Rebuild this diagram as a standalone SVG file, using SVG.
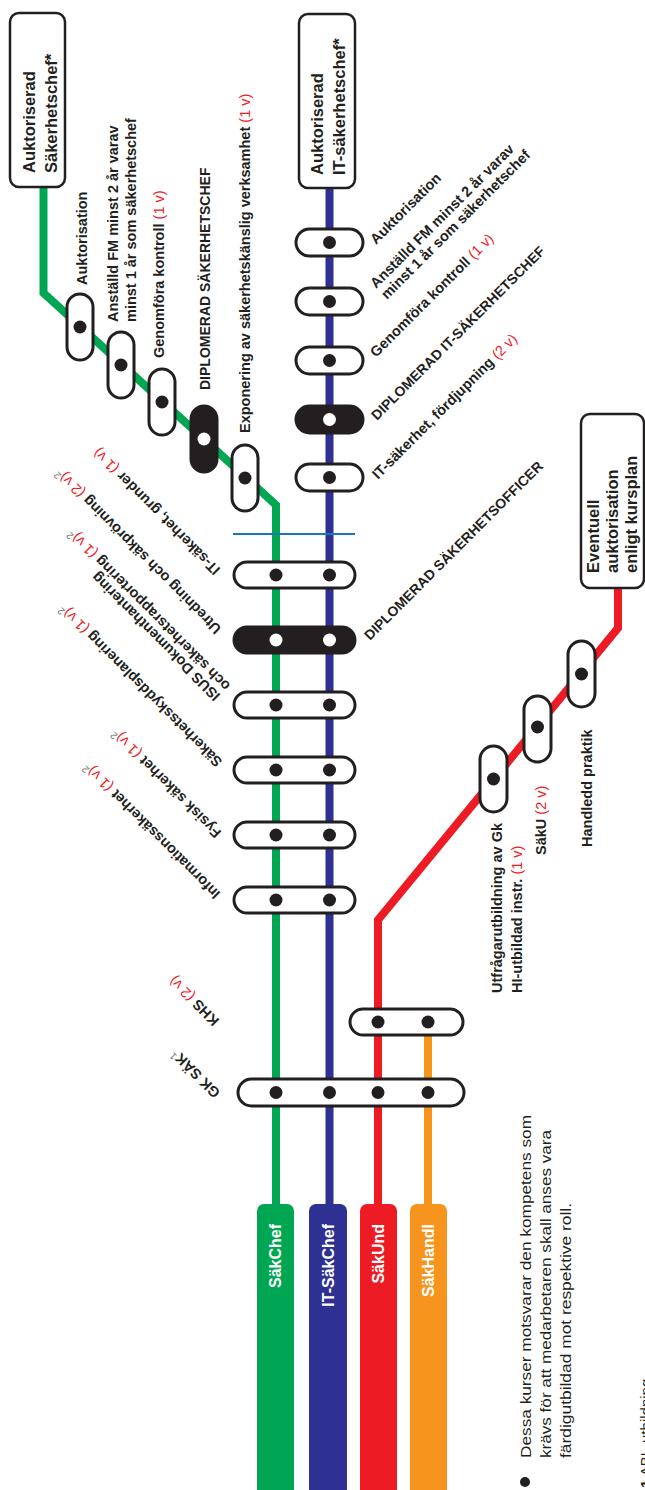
<svg xmlns="http://www.w3.org/2000/svg" width="645" height="1490" viewBox="0 0 645 1490">
<style>
.cap{fill:#fff;stroke:#231f20;stroke-width:3}
.capb{fill:#231f20;stroke:#231f20;stroke-width:3}
.dot{fill:#231f20}
.wdot{fill:#fff}
.lbl{font-family:"Liberation Sans",Arial,sans-serif;font-weight:bold;font-size:14.5px;fill:#231f20}
.dip{font-size:14px}
.r{fill:#ed1c24;font-weight:normal}
.g{fill:#6d6e71;font-weight:normal;font-size:10px}
.box{fill:#fff;stroke:#231f20;stroke-width:2.5}
.boxt{font-family:"Liberation Sans",Arial,sans-serif;font-weight:bold;font-size:16.5px;fill:#231f20}
.bart{font-family:"Liberation Sans",Arial,sans-serif;font-weight:bold;font-size:16px;fill:#fff}
.note{font-family:"Liberation Sans",Arial,sans-serif;font-size:15px;fill:#231f20}
.ln{fill:none;stroke-width:8;stroke-linejoin:miter}
</style>

<g id="connectors">
  <polyline class="ln" stroke="#00a651" points="43.5,187 43.5,293 276,505 276,1210"/>
  <polyline class="ln" stroke="#2e3192" points="329.5,188 329.5,1210"/>
  <polyline class="ln" stroke="#ed1c24" points="618,588 618,628 378,920 378,1210"/>
  <polyline class="ln" stroke="#f7941d" stroke-width="6" points="428,1022 428,1210"/>
  <line x1="233" y1="534" x2="355" y2="534" stroke="#1b75bc" stroke-width="2"/>
</g>

<!-- Terminal boxes -->
<g id="box-sakchef">
  <rect class="box" x="10" y="13" width="55" height="174" rx="9"/>
  <text class="boxt" transform="translate(35,173) rotate(-90)">Auktoriserad</text>
  <text class="boxt" transform="translate(57,173) rotate(-90)">Säkerhetschef*</text>
</g>
<g id="box-itsakchef">
  <rect class="box" x="299" y="14" width="56" height="174" rx="9"/>
  <text class="boxt" transform="translate(323,175) rotate(-90)">Auktoriserad</text>
  <text class="boxt" transform="translate(345,175) rotate(-90)">IT-säkerhetschef*</text>
</g>
<g id="box-eventuell">
  <rect class="box" x="581" y="414" width="63" height="174" rx="9"/>
  <text class="boxt" transform="translate(599,573) rotate(-90)">Eventuell</text>
  <text class="boxt" transform="translate(618,573) rotate(-90)">auktorisation</text>
  <text class="boxt" transform="translate(637,573) rotate(-90)">enligt kursplan</text>
</g>

<!-- Green diagonal stations -->
<g id="g-auktorisation">
  <rect class="cap" x="67" y="294" width="26" height="66" rx="13"/>
  <circle class="dot" cx="80" cy="327" r="6.5"/>
  <text class="lbl" transform="translate(87,285) rotate(-90)">Auktorisation</text>
</g>
<g id="g-anstalld">
  <rect class="cap" x="108" y="332" width="26" height="66" rx="13"/>
  <circle class="dot" cx="121" cy="365" r="6.5"/>
  <text class="lbl" transform="translate(118,322) rotate(-90)">Anställd FM minst 2 år varav</text>
  <text class="lbl" transform="translate(136,322) rotate(-90)">minst 1 år som säkerhetschef</text>
</g>
<g id="g-kontroll">
  <rect class="cap" x="149" y="369" width="26" height="66" rx="13"/>
  <circle class="dot" cx="162" cy="402" r="6.5"/>
  <text class="lbl" transform="translate(164,358) rotate(-90)">Genomföra kontroll <tspan class="r">(1 v)</tspan></text>
</g>
<g id="g-diplomerad">
  <rect class="capb" x="191" y="406" width="26" height="66" rx="13"/>
  <circle class="wdot" cx="204" cy="439" r="6.5"/>
  <text class="lbl dip" transform="translate(210,390) rotate(-90)">DIPLOMERAD SÄKERHETSCHEF</text>
</g>
<g id="g-exponering">
  <rect class="cap" x="232" y="445" width="26" height="66" rx="13"/>
  <circle class="dot" cx="245" cy="478" r="6.5"/>
  <text class="lbl" transform="translate(250,433) rotate(-90)">Exponering av säkerhetskänslig verksamhet  <tspan class="r">(1 v)</tspan></text>
</g>

<!-- Blue stations -->
<g id="b-auktorisation">
  <rect class="cap" x="296" y="229" width="67" height="27" rx="13.5"/>
  <circle class="dot" cx="329.5" cy="242.5" r="6.5"/>
  <text class="lbl" transform="translate(376,245) rotate(-45)">Auktorisation</text>
</g>
<g id="b-anstalld">
  <rect class="cap" x="296" y="288" width="67" height="27" rx="13.5"/>
  <circle class="dot" cx="329.5" cy="301.5" r="6.5"/>
  <text class="lbl" transform="translate(376,289) rotate(-45)">Anställd FM minst 2 år varav</text>
  <text class="lbl" transform="translate(387,300) rotate(-45)">minst 1 år som säkerhetschef</text>
</g>
<g id="b-kontroll">
  <rect class="cap" x="296" y="347" width="67" height="27" rx="13.5"/>
  <circle class="dot" cx="329.5" cy="360.5" r="6.5"/>
  <text class="lbl" transform="translate(376,358) rotate(-45)">Genomföra kontroll <tspan class="r">(1 v)</tspan></text>
</g>
<g id="b-diplomerad">
  <rect class="capb" x="296" y="406" width="67" height="27" rx="13.5"/>
  <circle class="wdot" cx="329.5" cy="419.5" r="6.5"/>
  <text class="lbl dip" transform="translate(377,421) rotate(-45)">DIPLOMERAD IT-SÄKERHETSCHEF</text>
</g>
<g id="b-fordjupning">
  <rect class="cap" x="296" y="464" width="67" height="27" rx="13.5"/>
  <circle class="dot" cx="329.5" cy="477.5" r="6.5"/>
  <text class="lbl" transform="translate(378,480) rotate(-45)">IT-säkerhet, fördjupning <tspan class="r">(2 v)</tspan></text>
</g>

<!-- Shared green/blue stations -->
<g id="s-grunder">
  <rect class="cap" x="234" y="562" width="121" height="26" rx="13"/>
  <circle class="dot" cx="276" cy="575" r="6.5"/>
  <circle class="dot" cx="329.5" cy="575" r="6.5"/>
  <text class="lbl" transform="translate(221,569) rotate(-135)">IT-säkerhet, grunder <tspan class="r">(1 v)</tspan></text>
</g>
<g id="s-utredning">
  <rect class="capb" x="234" y="627" width="121" height="26" rx="13"/>
  <circle class="wdot" cx="276" cy="640" r="6.5"/>
  <circle class="wdot" cx="329.5" cy="640" r="6.5"/>
  <text class="lbl" transform="translate(222,628) rotate(-135)">Utredning och säkprövning <tspan class="r">(2 v)</tspan><tspan class="g" dy="-5">2</tspan></text>
  <text class="lbl dip" transform="translate(370,641) rotate(-45)">DIPLOMERAD SÄKERHETSOFFICER</text>
</g>
<g id="s-isus">
  <rect class="cap" x="234" y="692" width="121" height="26" rx="13"/>
  <circle class="dot" cx="276" cy="705" r="6.5"/>
  <circle class="dot" cx="329.5" cy="705" r="6.5"/>
  <text class="lbl" transform="translate(221,695) rotate(-135)">ISUS Dokumenthantering</text>
  <text class="lbl" transform="translate(231,685) rotate(-135)">och säkerhetsrapportering <tspan class="r">(1 v)</tspan><tspan class="g" dy="-5">2</tspan></text>
</g>
<g id="s-skydd">
  <rect class="cap" x="234" y="757" width="121" height="26" rx="13"/>
  <circle class="dot" cx="276" cy="770" r="6.5"/>
  <circle class="dot" cx="329.5" cy="770" r="6.5"/>
  <text class="lbl" transform="translate(223,761) rotate(-135)">Säkerhetsskyddsplanering <tspan class="r">(1 v)</tspan><tspan class="g" dy="-5">2</tspan></text>
</g>
<g id="s-fysisk">
  <rect class="cap" x="234" y="822" width="121" height="26" rx="13"/>
  <circle class="dot" cx="276" cy="835" r="6.5"/>
  <circle class="dot" cx="329.5" cy="835" r="6.5"/>
  <text class="lbl" transform="translate(222,832) rotate(-135)">Fysisk säkerhet <tspan class="r">(1 v)</tspan><tspan class="g" dy="-5">2</tspan></text>
</g>
<g id="s-info">
  <rect class="cap" x="234" y="887" width="121" height="26" rx="13"/>
  <circle class="dot" cx="276" cy="900" r="6.5"/>
  <circle class="dot" cx="329.5" cy="900" r="6.5"/>
  <text class="lbl" transform="translate(221,893) rotate(-135)">Informationssäkerhet <tspan class="r">(1 v)</tspan><tspan class="g" dy="-5">2</tspan></text>
</g>

<!-- Lower stations -->
<g id="s-khs">
  <rect class="cap" x="350" y="1009" width="113" height="26" rx="13"/>
  <circle class="dot" cx="378" cy="1022" r="6.5"/>
  <circle class="dot" cx="428" cy="1022" r="6.5"/>
  <text class="lbl" transform="translate(220,1020) rotate(-135)">KHS <tspan class="r">(2 v)</tspan></text>
</g>
<g id="s-gk">
  <rect class="cap" x="238" y="1079" width="226" height="27" rx="13.5"/>
  <circle class="dot" cx="276" cy="1092.5" r="6.5"/>
  <circle class="dot" cx="329.5" cy="1092.5" r="6.5"/>
  <circle class="dot" cx="378" cy="1092.5" r="6.5"/>
  <circle class="dot" cx="428" cy="1092.5" r="6.5"/>
  <text class="lbl" transform="translate(221,1092) rotate(-135)">GK SÄK<tspan class="g" fill="#231f20" dy="-5">1</tspan></text>
</g>

<!-- Red stations -->
<g id="r-utfragar">
  <rect class="cap" x="480" y="746" width="27" height="66" rx="13.5"/>
  <circle class="dot" cx="493.5" cy="779" r="6.5"/>
  <text class="lbl" transform="translate(502,993) rotate(-90)">Utfrågarutbildning av Gk</text>
  <text class="lbl" transform="translate(522,993) rotate(-90)">HI-utbildad instr. <tspan class="r">(1 v)</tspan></text>
</g>
<g id="r-saku">
  <rect class="cap" x="524" y="696" width="27" height="66" rx="13.5"/>
  <circle class="dot" cx="537.5" cy="727" r="6.5"/>
  <text class="lbl" transform="translate(546,855) rotate(-90)">SäkU <tspan class="r">(2 v)</tspan></text>
</g>
<g id="r-handledd">
  <rect class="cap" x="568" y="641" width="27" height="66" rx="13.5"/>
  <circle class="dot" cx="581.5" cy="674" r="6.5"/>
  <text class="lbl" transform="translate(592,847) rotate(-90)">Handledd praktik</text>
</g>

<!-- Line bars -->
<g id="bar-sakchef">
  <rect x="257" y="1204" width="37" height="300" rx="7" fill="#00a651"/>
  <text class="bart" text-anchor="end" transform="translate(281,1224) rotate(-90)">SäkChef</text>
</g>
<g id="bar-itsakchef">
  <rect x="309" y="1204" width="38" height="300" rx="7" fill="#2e3192"/>
  <text class="bart" text-anchor="end" transform="translate(334,1224) rotate(-90)">IT-SäkChef</text>
</g>
<g id="bar-sakund">
  <rect x="360" y="1204" width="37" height="300" rx="7" fill="#ed1c24"/>
  <text class="bart" text-anchor="end" transform="translate(384,1224) rotate(-90)">SäkUnd</text>
</g>
<g id="bar-sakhandl">
  <rect x="410" y="1204" width="37" height="300" rx="7" fill="#f7941d"/>
  <text class="bart" text-anchor="end" transform="translate(434,1224) rotate(-90)">SäkHandl</text>
</g>

<!-- Notes -->
<g id="notes">
  <circle cx="525" cy="1482" r="5" fill="#231f20"/>
  <text class="note" transform="translate(531,1458) rotate(-90)" textLength="343" lengthAdjust="spacingAndGlyphs">Dessa kurser motsvarar den  kompetens som</text>
  <text class="note" transform="translate(551,1458) rotate(-90)" textLength="328" lengthAdjust="spacingAndGlyphs">krävs för att medarbetaren skall anses vara</text>
  <text class="note" transform="translate(571,1458) rotate(-90)" textLength="255" lengthAdjust="spacingAndGlyphs">färdigutbildad mot respektive roll.</text>
  <text class="note" transform="translate(651,1488) rotate(-90)"><tspan font-weight="bold">1</tspan>  ABL-utbildning</text>
</g>
</svg>
